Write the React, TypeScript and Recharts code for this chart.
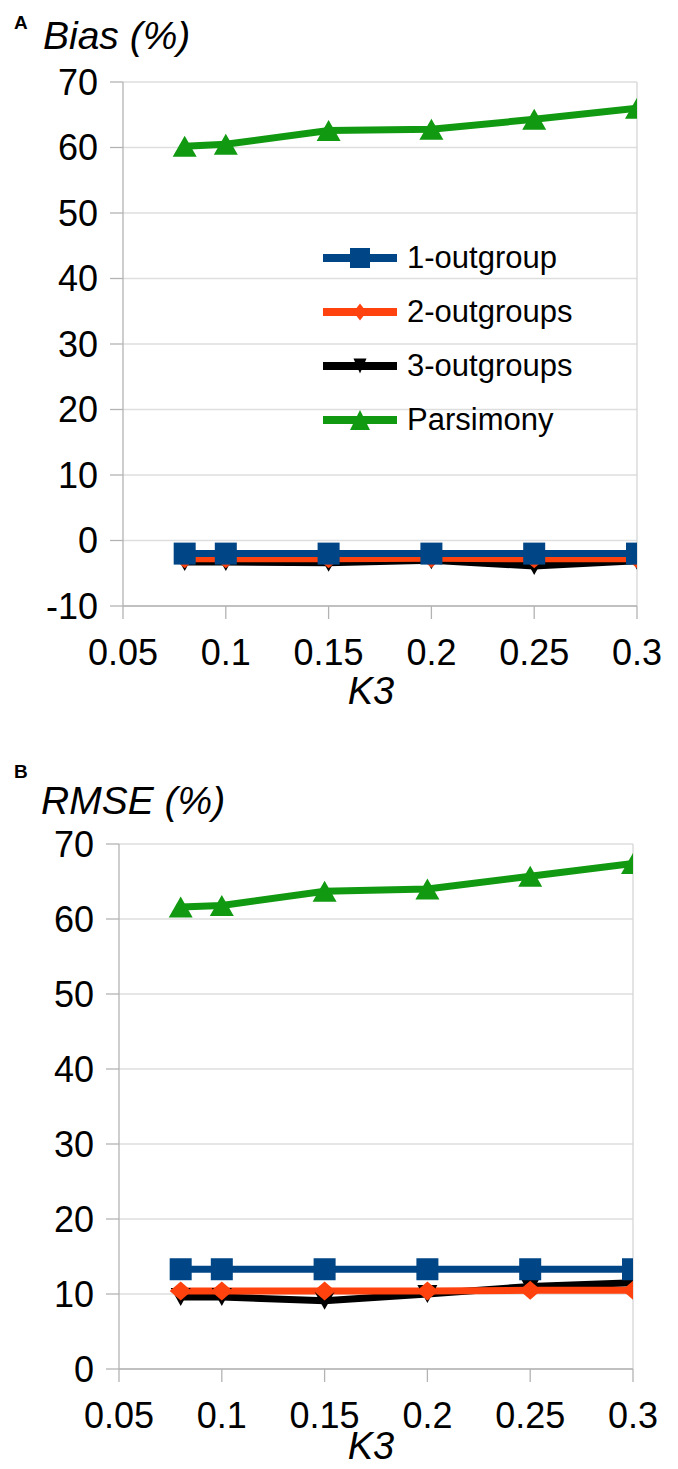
import React from 'react'
import { LineChart, Line, XAxis, YAxis, CartesianGrid, Legend, ReferenceLine } from 'recharts'

const FONT = '"Liberation Sans", Arial, sans-serif'

const BLUE = '#004586'
const ORANGE = '#ff420e'
const BLACK = '#000000'
const GREEN = '#119a11'

// K3 values on the x axis
const K3 = [0.08, 0.1, 0.15, 0.2, 0.25, 0.3]
const X_TICKS = [0.05, 0.1, 0.15, 0.2, 0.25, 0.3]

// panel A: bias (%)
const BIAS_OUT1 = [-2.0, -2.0, -2.0, -2.0, -2.0, -2.0]
const BIAS_OUT2 = [-2.8, -2.8, -2.8, -2.7, -2.8, -2.8]
const BIAS_OUT3 = [-3.3, -3.3, -3.4, -3.0, -3.9, -3.1]
const BIAS_PARS = [60.2, 60.5, 62.6, 62.8, 64.3, 66.0]
const BIAS_TICKS = [-10, 0, 10, 20, 30, 40, 50, 60, 70]

// panel B: RMSE (%)
const RMSE_OUT1 = [13.3, 13.3, 13.3, 13.3, 13.3, 13.3]
const RMSE_OUT2 = [10.4, 10.4, 10.4, 10.4, 10.5, 10.5]
const RMSE_OUT3 = [9.6, 9.6, 9.1, 10.0, 11.0, 11.5]
const RMSE_PARS = [61.6, 61.8, 63.7, 64.0, 65.7, 67.4]
const RMSE_TICKS = [0, 10, 20, 30, 40, 50, 60, 70]

const SERIES_NAMES = ['1-outgroup', '2-outgroups', '3-outgroups', 'Parsimony']

interface Row {
  k: number
  out1: number
  out2: number
  out3: number
  pars: number
}

const makeRows = (a: number[], b: number[], c: number[], d: number[]): Row[] =>
  K3.map((k, i) => ({ k, out1: a[i], out2: b[i], out3: c[i], pars: d[i] }))

const biasRows = makeRows(BIAS_OUT1, BIAS_OUT2, BIAS_OUT3, BIAS_PARS)
const rmseRows = makeRows(RMSE_OUT1, RMSE_OUT2, RMSE_OUT3, RMSE_PARS)

type Shape = 'square' | 'diamond' | 'down' | 'up'

function marker(shape: Shape, cx: number, cy: number, w: number, h: number, color: string, key?: React.Key) {
  const hw = w / 2
  const hh = h / 2
  if (shape === 'square') {
    return <rect key={key} x={cx - hw} y={cy - hh} width={w} height={h} fill={color} />
  }
  let pts = ''
  if (shape === 'diamond') pts = `${cx - hw},${cy} ${cx},${cy - hh} ${cx + hw},${cy} ${cx},${cy + hh}`
  if (shape === 'down') pts = `${cx - hw},${cy - hh} ${cx + hw},${cy - hh} ${cx},${cy + hh}`
  if (shape === 'up') pts = `${cx - hw},${cy + hh} ${cx + hw},${cy + hh} ${cx},${cy - hh}`
  return <polygon key={key} points={pts} fill={color} />
}

const dotFn = (shape: Shape, w: number, h: number, color: string) => (p: any) => {
  if (p.cx == null || p.cy == null) return <g key={p.index} />
  return marker(shape, p.cx, p.cy, w, h, color, p.index)
}

const LEGEND_ITEMS: { name: string; color: string; shape: Shape; w: number; h: number }[] = [
  { name: SERIES_NAMES[0], color: BLUE, shape: 'square', w: 20, h: 20 },
  { name: SERIES_NAMES[1], color: ORANGE, shape: 'diamond', w: 13, h: 17 },
  { name: SERIES_NAMES[2], color: BLACK, shape: 'down', w: 13, h: 15 },
  { name: SERIES_NAMES[3], color: GREEN, shape: 'up', w: 20, h: 20 },
]

function LegendBox() {
  return (
    <div style={{ fontFamily: FONT, fontSize: 31, color: '#000' }}>
      {LEGEND_ITEMS.map((it) => (
        <div key={it.name} style={{ display: 'flex', alignItems: 'center', height: 54 }}>
          <svg width={74} height={54} style={{ display: 'block' }}>
            <line x1={0} x2={74} y1={27} y2={27} stroke={it.color} strokeWidth={8} />
            {marker(it.shape, 37, 27, it.w, it.h, it.color)}
          </svg>
          <span style={{ marginLeft: 10, whiteSpace: 'nowrap' }}>{it.name}</span>
        </div>
      ))}
    </div>
  )
}

interface PanelProps {
  rows: Row[]
  yTicks: number[]
  width: number
  height: number
  margin: { top: number; right: number; left: number; bottom: number }
  yAxisWidth: number
  showLegend?: boolean
}

function Panel({ rows, yTicks, width, height, margin, yAxisWidth, showLegend }: PanelProps) {
  const tickStyle = { fontFamily: FONT, fontSize: 36, fill: '#000' }
  return (
    <LineChart width={width} height={height} data={rows} margin={margin}>
      <CartesianGrid vertical={false} stroke="#dedede" strokeWidth={1.3} />
      <ReferenceLine x={0.3} stroke="#d6d6d6" strokeWidth={1.3} />
      <XAxis
        dataKey="k"
        type="number"
        domain={[0.05, 0.3]}
        ticks={X_TICKS}
        interval={0}
        allowDataOverflow
        height={80}
        tick={tickStyle}
        tickSize={13}
        tickMargin={20}
        axisLine={{ stroke: '#b3b3b3', strokeWidth: 1.3 }}
        tickLine={{ stroke: '#b3b3b3', strokeWidth: 1.3 }}
      />
      <YAxis
        type="number"
        domain={[yTicks[0], yTicks[yTicks.length - 1]]}
        ticks={yTicks}
        interval={0}
        width={yAxisWidth}
        tick={tickStyle}
        tickSize={13}
        tickMargin={12}
        axisLine={{ stroke: '#b3b3b3', strokeWidth: 1.3 }}
        tickLine={{ stroke: '#b3b3b3', strokeWidth: 1.3 }}
      />
      {showLegend && (
        <Legend
          layout="vertical"
          align="center"
          verticalAlign="middle"
          wrapperStyle={{ left: 323, top: 231, width: 300 }}
          content={() => <LegendBox />}
        />
      )}
      <Line type="linear" dataKey="out3" name={SERIES_NAMES[2]} stroke={BLACK} strokeWidth={7}
        dot={dotFn('down', 20, 18, BLACK)} isAnimationActive={false} />
      <Line type="linear" dataKey="out2" name={SERIES_NAMES[1]} stroke={ORANGE} strokeWidth={7}
        dot={dotFn('diamond', 22, 19, ORANGE)} isAnimationActive={false} />
      <Line type="linear" dataKey="out1" name={SERIES_NAMES[0]} stroke={BLUE} strokeWidth={7}
        dot={dotFn('square', 22, 22, BLUE)} isAnimationActive={false} />
      <Line type="linear" dataKey="pars" name={SERIES_NAMES[3]} stroke={GREEN} strokeWidth={7}
        dot={dotFn('up', 24, 21, GREEN)} isAnimationActive={false} />
    </LineChart>
  )
}

export default function App() {
  const label = { fontFamily: FONT, fill: '#000' }
  return (
    <div style={{ position: 'absolute', left: 0, top: 0, width: 678, height: 1469, background: '#fff', overflow: 'hidden' }}>
      <div style={{ position: 'absolute', left: 0, top: 0 }}>
        <Panel
          rows={biasRows}
          yTicks={BIAS_TICKS}
          width={678}
          height={720}
          margin={{ top: 82, right: 41, left: 0, bottom: 34 }}
          yAxisWidth={123}
          showLegend
        />
      </div>
      <div style={{ position: 'absolute', left: 0, top: 740 }}>
        <Panel
          rows={rmseRows}
          yTicks={RMSE_TICKS}
          width={678}
          height={729}
          margin={{ top: 104, right: 45, left: 0, bottom: 20 }}
          yAxisWidth={119}
        />
      </div>
      <svg width={678} height={1469} style={{ position: 'absolute', left: 0, top: 0, pointerEvents: 'none' }}>
        <text {...label} x={14} y={29} fontSize={19} fontWeight="bold">A</text>
        <text {...label} x={43} y={49} fontSize={39} fontStyle="italic">Bias (%)</text>
        <text {...label} x={371} y={704} fontSize={38} fontStyle="italic" textAnchor="middle">K3</text>
        <text {...label} x={14} y={778} fontSize={19} fontWeight="bold">B</text>
        <text {...label} x={41} y={814} fontSize={39} fontStyle="italic">RMSE (%)</text>
        <text {...label} x={371} y={1459} fontSize={38} fontStyle="italic" textAnchor="middle">K3</text>
      </svg>
    </div>
  )
}
